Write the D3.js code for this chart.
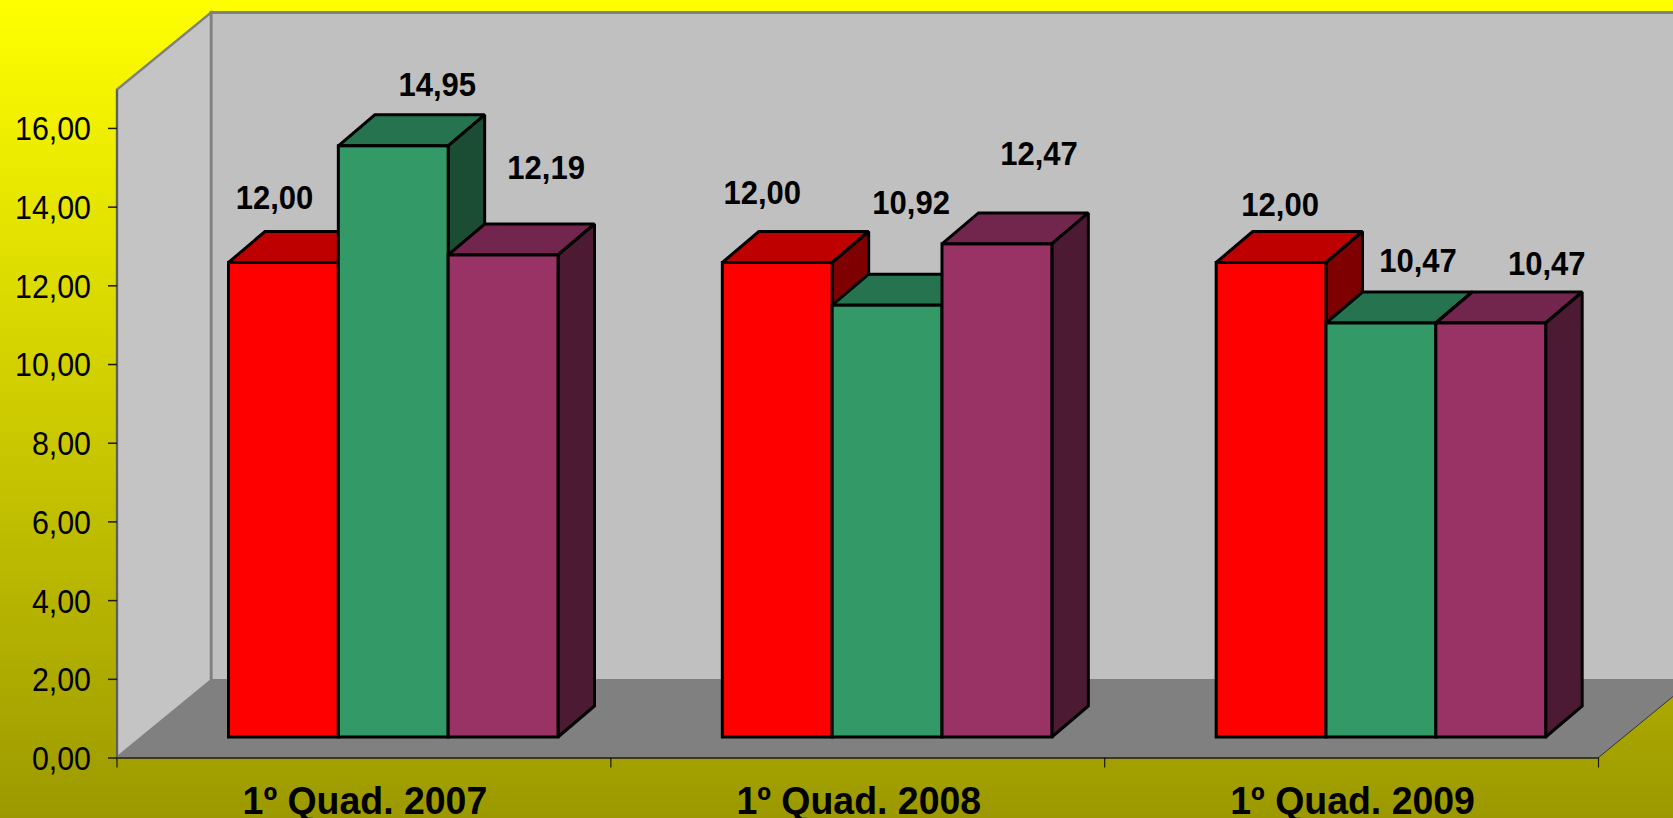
<!DOCTYPE html>
<html><head><meta charset="utf-8">
<script src="https://cdnjs.cloudflare.com/ajax/libs/d3/7.8.5/d3.min.js"></script>
<style>html,body{margin:0;padding:0;overflow:hidden;background:#a09c00}svg{display:block}text{font-family:"Liberation Sans",Arial,sans-serif;fill:#000}</style>
</head><body><svg id="c" width="1673" height="818"></svg>
<script>
const categories = ["1º Quad. 2007", "1º Quad. 2008", "1º Quad. 2009"];
const seriesA = [12.00, 12.00, 12.00];
const seriesB = [14.95, 10.92, 10.47];
const seriesC = [12.19, 12.47, 10.47];
const tickValues = [0, 2, 4, 6, 8, 10, 12, 14, 16];
const seriesColors = [
  {front:"#ff0000", top:"#bf0000", side:"#7f0000"},
  {front:"#339966", top:"#267350", side:"#1a4d33"},
  {front:"#993366", top:"#73264d", side:"#4d1a33"}
];
// hand-placed data-label offsets from the bar's top-left front corner, [dx, dy]
const labelNudgeA = [[46,-54],[40,-59],[64,-47]];
const labelNudgeB = [[99,-50],[79,-91],[92,-51]];
const labelNudgeC = [[98,-76],[97,-79],[111,-48]];

const W = 1673, H = 818;
const svg = d3.select("#c");
const defs = svg.append("defs");
const g = defs.append("linearGradient").attr("id","bg").attr("x1",0).attr("y1",0).attr("x2",0).attr("y2",1);
g.append("stop").attr("offset","0").attr("stop-color","#ffff00");
g.append("stop").attr("offset","1").attr("stop-color","#9c9900");
svg.append("rect").attr("width",W).attr("height",H).attr("fill","url(#bg)");

const x0 = d3.scaleBand().domain(categories).range([117,1598.5]);
const x1 = d3.scaleBand().domain([0,1,2]).range([111.5,441]);
const yAxisScale = d3.scaleLinear().domain([0,17]).range([757.5,88.6]);
const yBar = d3.scaleLinear().domain([0,12]).range([737,262.5]);
const wallDx = 94, wallDy = 77, barDx = 36.5, barDy = 31;
const pts = a => a.map(p=>p.join(",")).join(" ");

const left=117, right=1598.5, y0=yAxisScale(0), yTop=yAxisScale(17)+1;
// back wall
svg.append("polygon").attr("points",pts([[left+wallDx,y0-wallDy],[left+wallDx,yTop-wallDy],[W+30,yTop-wallDy],[W+30,y0-wallDy]]))
  .attr("fill","#c0c0c0").attr("stroke","#808080").attr("stroke-width",3);
// side wall
svg.append("polygon").attr("points",pts([[left,y0],[left,yTop],[left+wallDx,yTop-wallDy],[left+wallDx,y0-wallDy]]))
  .attr("fill","#c4c4c4").attr("stroke","#808080").attr("stroke-width",2.5);
// floor
svg.append("polygon").attr("points",pts([[left,y0],[left+wallDx,y0-wallDy],[right+wallDx,y0-wallDy],[right,y0]]))
  .attr("fill","#808080");
svg.append("line").attr("x1",right).attr("y1",y0).attr("x2",right+wallDx).attr("y2",y0-wallDy).attr("stroke","#333").attr("stroke-width",1);
svg.append("line").attr("x1",left).attr("y1",y0).attr("x2",left).attr("y2",yTop).attr("stroke","#555").attr("stroke-width",1.5);

const condense = (sel,k) => sel.each(function(){
  const len = this.getComputedTextLength();
  d3.select(this).attr("textLength",len*k).attr("lengthAdjust","spacingAndGlyphs");
});

// value axis
const yAxis = svg.append("g").attr("transform",`translate(${left},0)`)
  .call(d3.axisLeft(yAxisScale).tickValues(tickValues).tickSize(9).tickPadding(17).tickFormat(d=>d3.format(".2f")(d).replace(".",",")));
yAxis.select(".domain").remove();
yAxis.selectAll("line").attr("stroke","#1a1a00").attr("stroke-width",1.5);
yAxis.selectAll("text").attr("fill","#000").style("font-size","33px").attr("dy","0.36em").call(condense,0.92);

// category axis
const xAxis = svg.append("g").attr("transform",`translate(1,${y0})`)
  .call(d3.axisBottom(x0).tickSize(0).tickPadding(0));
xAxis.select(".domain").attr("stroke","#1a1a1a").attr("stroke-width",1.5).attr("transform","translate(-1,0)");
xAxis.selectAll("text").attr("fill","#000").attr("dy",0).attr("y",56.5).style("font-size","39px").style("font-weight","bold").call(condense,0.96);
const bounds = categories.map(c=>x0(c)).concat([right]);
svg.append("g").selectAll("line").data(bounds).join("line")
  .attr("x1",d=>d).attr("x2",d=>d).attr("y1",y0).attr("y2",y0+10).attr("stroke","#1a1a00").attr("stroke-width",1.2);

// bars
const series = [seriesA, seriesB, seriesC];
const nudges = [labelNudgeA, labelNudgeB, labelNudgeC];
const barsG = svg.append("g").attr("stroke","#000").attr("stroke-width",3).attr("stroke-linejoin","miter").attr("stroke-miterlimit",1.5);
const labelsG = svg.append("g");
categories.forEach((c,ci)=>{
  series.forEach((s,si)=>{
    const xa = x0(c)+x1(si), xb = xa+x1.bandwidth(), yt = yBar(s[ci]), yb = yBar(0), col = seriesColors[si];
    barsG.append("polygon").attr("fill",col.top).attr("points",pts([[xa,yt],[xa+barDx,yt-barDy],[xb+barDx,yt-barDy],[xb,yt]]));
    barsG.append("polygon").attr("fill",col.side).attr("points",pts([[xb,yt],[xb+barDx,yt-barDy],[xb+barDx,yb-barDy],[xb,yb]]));
    barsG.append("rect").attr("fill",col.front).attr("x",xa).attr("y",yt).attr("width",xb-xa).attr("height",yb-yt);
    const n = nudges[si][ci];
    labelsG.append("text").attr("x",xa+n[0]).attr("y",yt+n[1]).attr("text-anchor","middle")
      .style("font-size","33px").style("font-weight","bold")
      .text(d3.format(".2f")(s[ci]).replace(".",",")).call(condense,0.94);
  });
});
</script></body></html>
